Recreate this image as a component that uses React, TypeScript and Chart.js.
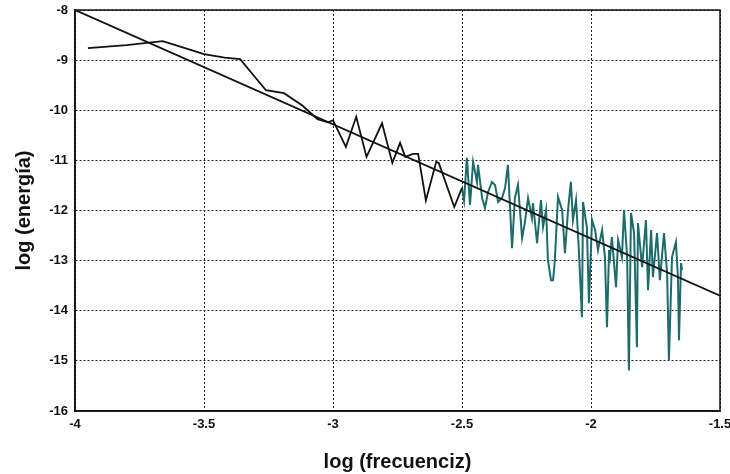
import React, { useEffect, useRef } from "react";
import { Chart, registerables } from "chart.js";

Chart.register(...registerables);

// Tick values
const xTicks = [-4, -3.5, -3, -2.5, -2, -1.5];
const yTicks = [-16, -15, -14, -13, -12, -11, -10, -9, -8];

// Fitted straight line
const fitX = [-4, -1.5];
const fitY = [-8, -13.7];

// Low-frequency part (black)
const blackX = [-3.95, -3.8, -3.66, -3.58, -3.5, -3.42, -3.36, -3.26, -3.19, -3.12, -3.06, -3.02, -3.0, -2.95, -2.91, -2.87, -2.81, -2.77, -2.74, -2.72, -2.69, -2.67, -2.64, -2.6, -2.59, -2.53, -2.5];
const blackY = [-8.76, -8.7, -8.62, -8.75, -8.88, -8.95, -8.98, -9.6, -9.66, -9.9, -10.18, -10.24, -10.2, -10.73, -10.13, -10.93, -10.26, -11.05, -10.65, -10.93, -10.87, -10.87, -11.8, -11.03, -11.05, -11.93, -11.55];

// High-frequency part (teal)
const tealX = [-2.5, -2.492, -2.481, -2.469, -2.457, -2.442, -2.438, -2.422, -2.411, -2.399, -2.384, -2.372, -2.36, -2.345, -2.333, -2.322, -2.306, -2.295, -2.283, -2.267, -2.256, -2.244, -2.229, -2.225, -2.209, -2.194, -2.186, -2.174, -2.167, -2.155, -2.147, -2.14, -2.128, -2.112, -2.101, -2.089, -2.078, -2.07, -2.058, -2.047, -2.035, -2.031, -2.016, -2.008, -1.996, -1.984, -1.973, -1.957, -1.946, -1.938, -1.93, -1.926, -1.919, -1.903, -1.895, -1.88, -1.872, -1.86, -1.853, -1.845, -1.833, -1.822, -1.818, -1.802, -1.787, -1.779, -1.767, -1.76, -1.744, -1.733, -1.717, -1.705, -1.698, -1.686, -1.671, -1.663, -1.659, -1.651, -1.647];
const tealY = [-11.55, -11.8, -10.95, -11.89, -11.03, -11.43, -11.09, -11.75, -11.95, -11.63, -11.43, -11.49, -11.83, -11.75, -11.55, -11.09, -12.75, -11.75, -11.49, -12.55, -12.23, -11.75, -12.15, -11.85, -12.65, -11.79, -12.33, -11.99, -12.99, -13.39, -13.39, -12.99, -11.73, -11.99, -12.85, -11.99, -11.43, -12.19, -11.79, -12.79, -14.13, -11.83, -12.33, -13.85, -12.19, -12.39, -12.79, -12.39, -12.93, -14.33, -12.79, -12.93, -12.53, -13.53, -12.59, -12.93, -11.99, -12.93, -15.19, -12.05, -12.45, -14.73, -12.25, -13.13, -12.19, -13.59, -12.39, -13.33, -12.45, -13.39, -12.45, -13.25, -14.99, -12.93, -12.63, -13.33, -14.59, -13.05, -13.19];

const xTitle = "log (frecuenciz)";
const yTitle = "log (energía)";

const toPts = (xs: number[], ys: number[]) => xs.map((x, i) => ({ x, y: ys[i] }));

const boxPlugin = {
  id: "boxPlugin",
  afterDraw(chart: any) {
    const { ctx, chartArea } = chart;
    ctx.save();
    ctx.strokeStyle = "#111";
    ctx.lineWidth = 1.5;
    ctx.setLineDash([]);
    ctx.strokeRect(chartArea.left, chartArea.top, chartArea.right - chartArea.left, chartArea.bottom - chartArea.top);
    ctx.restore();
  },
};

export default function App() {
  const ref = useRef<HTMLCanvasElement | null>(null);
  useEffect(() => {
    if (!ref.current) return;
    const font = "'Liberation Sans', Arial, sans-serif";
    const chart = new Chart(ref.current, {
      type: "line",
      data: {
        datasets: [
          { data: toPts(fitX, fitY), borderColor: "#111", borderWidth: 1.8, pointRadius: 0, tension: 0 },
          { data: toPts(blackX, blackY), borderColor: "#111", borderWidth: 1.8, pointRadius: 0, tension: 0 },
          { data: toPts(tealX, tealY), borderColor: "#1d6b6b", borderWidth: 2, pointRadius: 0, tension: 0 },
        ],
      },
      options: {
        animation: false,
        responsive: false,
        events: [],
        layout: { padding: { top: 10, right: 10, left: 0, bottom: 0 } },
        plugins: { legend: { display: false }, tooltip: { enabled: false } },
        scales: {
          x: {
            type: "linear",
            min: -4,
            max: -1.5,
            afterBuildTicks: (s: any) => { s.ticks = xTicks.map((v) => ({ value: v })); },
            afterFit: (s: any) => { s.height = 63; s.paddingLeft = 0; s.paddingRight = 0; },
            ticks: { color: "#111", font: { family: font, size: 13, weight: "bold" }, padding: 6, maxRotation: 0, autoSkip: false, callback: (v: any) => String(v) },
            grid: { color: "#222", lineWidth: 1, drawTicks: false },
            border: { display: true, color: "#111", width: 1.5, dash: [2, 2] },
            title: { display: true, text: xTitle, color: "#111", font: { family: font, size: 20, weight: "bold" }, padding: { top: 0, bottom: 0 } },
          },
          y: {
            type: "linear",
            min: -16,
            max: -8,
            afterBuildTicks: (s: any) => { s.ticks = yTicks.map((v) => ({ value: v })); },
            afterFit: (s: any) => { s.width = 75; s.paddingTop = 0; s.paddingBottom = 0; },
            ticks: { color: "#111", font: { family: font, size: 13, weight: "bold" }, padding: 7, autoSkip: false, callback: (v: any) => String(v) },
            grid: { color: "#222", lineWidth: 1, drawTicks: false },
            border: { display: true, color: "#111", width: 1.5, dash: [2, 2] },
            title: { display: true, text: yTitle, color: "#111", font: { family: font, size: 20, weight: "bold" }, padding: { top: 12, bottom: 0 } },
          },
        },
      },
      plugins: [
        {
          id: "dashGrid",
          beforeDraw(chart: any) {
            ["x", "y"].forEach((k) => {
              const g = chart.scales[k].options.grid;
              g.borderDash = [2, 2];
            });
          },
        },
        boxPlugin,
      ],
    } as any);
    return () => chart.destroy();
  }, []);
  return (
    <div style={{ position: "fixed", left: 0, top: 0, width: 730, height: 474, background: "#fff" }}>
      <canvas ref={ref} width={730} height={474} />
    </div>
  );
}
